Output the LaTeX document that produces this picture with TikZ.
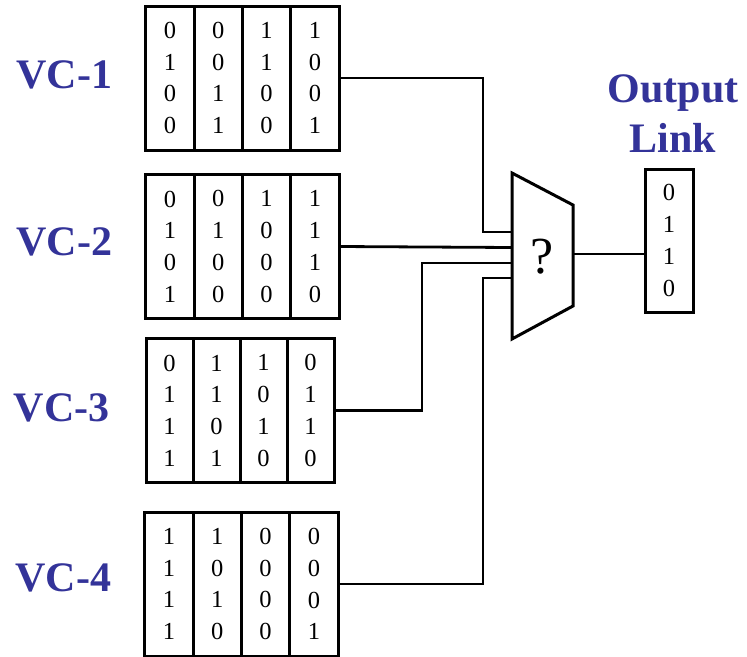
\documentclass[tikz,border=0pt]{standalone}
\usepackage{fontspec}
\setmainfont{Liberation Serif}
\usetikzlibrary{positioning}
\definecolor{vcblue}{RGB}{51,51,153}

\begin{document}
\begin{tikzpicture}[
  x=1pt,y=-1pt,
  node distance=0pt,
  slot/.style={draw,line width=3pt,outer sep=0pt,inner sep=0pt,minimum width=48.3pt,
    minimum height=144pt,align=center,font=\fontsize{24.5}{31.7}\selectfont},
  vclabel/.style={text=vcblue,font=\fontsize{42}{50}\selectfont\bfseries,align=center},
  wire/.style={line width=2.8pt}
]
  \useasboundingbox (0,0) rectangle (747,656);

  \node[slot] (vc1a) at (170,78) {0\\1\\0\\0};
  \node[slot,right=of vc1a] (vc1b) {0\\0\\1\\1};
  \node[slot,right=of vc1b] (vc1c) {1\\1\\0\\0};
  \node[slot,right=of vc1c] (vc1d) {1\\0\\0\\1};
  \node[vclabel,left=30pt of vc1a,yshift=3pt] (vc1) {VC-1};

  \node[slot] (vc2a) at (170,246.5) {0\\1\\0\\1};
  \node[slot,right=of vc2a] (vc2b) {0\\1\\0\\0};
  \node[slot,right=of vc2b] (vc2c) {1\\0\\0\\0};
  \node[slot,right=of vc2c] (vc2d) {1\\1\\1\\0};
  \node[vclabel,left=30pt of vc2a,yshift=5pt] (vc2) {VC-2};

  \node[slot,minimum width=47pt] (vc3a) at (169.5,410.5) {0\\1\\1\\1};
  \node[slot,minimum width=47pt,right=of vc3a] (vc3b) {1\\1\\0\\1};
  \node[slot,minimum width=47pt,right=of vc3b] (vc3c) {1\\0\\1\\0};
  \node[slot,minimum width=47pt,right=of vc3c] (vc3d) {0\\1\\1\\0};
  \node[vclabel,left=33pt of vc3a,yshift=3pt] (vc3) {VC-3};

  \node[slot] (vc4a) at (169,584) {1\\1\\1\\1};
  \node[slot,right=of vc4a] (vc4b) {1\\0\\1\\0};
  \node[slot,right=of vc4b] (vc4c) {0\\0\\0\\0};
  \node[slot,right=of vc4c] (vc4d) {0\\0\\0\\1};
  \node[vclabel,left=30pt of vc4a,yshift=6pt] (vc4) {VC-4};

  \draw[line width=3pt] (512,173) -- (573,205) -- (573,306) -- (512,339) -- cycle;
  \node[font=\fontsize{52}{52}\selectfont] (mux) at (542,257) {?};
  \coordinate (in1) at (512,232);
  \coordinate (in2) at (512,247.5);
  \coordinate (in3) at (512,263);
  \coordinate (in4) at (512,278);
  \coordinate (muxout) at (573,254);

  \node[slot,minimum width=48pt,minimum height=143pt] (out) at (669,240.5) {0\\1\\1\\0};
  \node[vclabel,above=13pt of out,xshift=4pt] (outlbl) {Output\\Link};

  \draw[wire] (vc1d.east) -| ([xshift=-29pt]in1) -- (in1);
  \draw[wire] (vc2d.east) -- (in2);
  \draw[wire] (vc3d.east) -| ([xshift=-90pt]in3) -- (in3);
  \draw[wire] (vc4d.east) -| ([xshift=-29pt]in4) -- (in4);
  \draw[wire] (muxout) -- (muxout -| out.west);
\end{tikzpicture}
\end{document}
